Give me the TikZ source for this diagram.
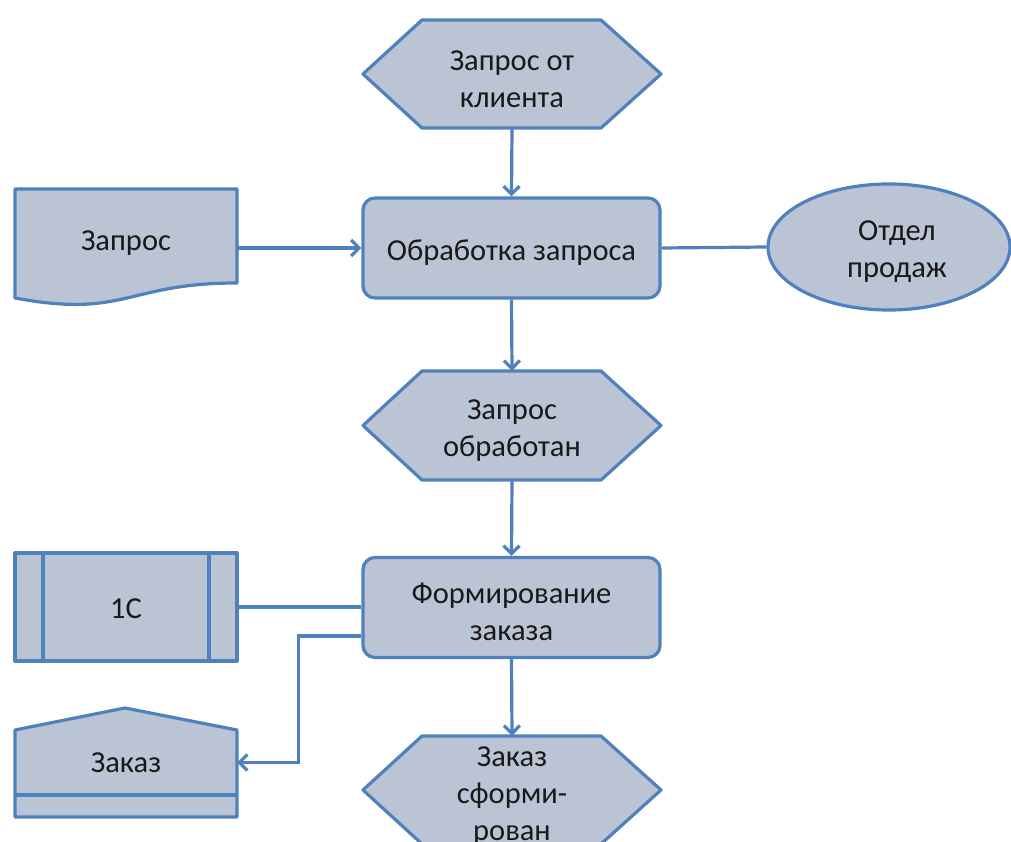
\documentclass[tikz,border=0pt]{standalone}
\usepackage{fontspec}
\setmainfont{Carlito}
\usetikzlibrary{arrows.meta,shapes.geometric}
\definecolor{edgeblue}{RGB}{79,129,189}
\definecolor{boxfill}{RGB}{187,196,212}
\begin{document}
\begin{tikzpicture}[x=1pt,y=-1pt,
  shp/.style={draw=edgeblue, fill=boxfill, line width=3.2pt, line join=round},
  lbl/.style={font=\fontsize{30.5}{37}\selectfont, align=center, text=black!90, inner sep=0pt},
  box/.style={inner sep=0pt, draw=none},
  rbox/.style={shp, rounded corners=12pt, minimum width=297pt, minimum height=100pt, inner sep=0pt},
  conn/.style={draw=edgeblue, line width=3.2pt},
  arr/.style={conn, -{Straight Barb[length=8pt,width=16pt,line width=3.2pt]}}
]
\useasboundingbox (0,0) rectangle (1011,842);
\fill[white] (0,0) rectangle (1011,842);

% shapes drawn directly
\filldraw[shp] (363,74) -- (422,20) -- (601,20) -- (661,74) -- (601,128) -- (422,128) -- cycle;
\filldraw[shp] (363,425.5) -- (422,371) -- (601,371) -- (661,425.5) -- (601,480) -- (422,480) -- cycle;
\filldraw[shp] (363,790) -- (422,736) -- (601,736) -- (661,790) -- (601,844) -- (422,844) -- cycle;
\filldraw[shp] (15,189) -- (237,189) -- (237,283) .. controls (126,283) and (126,318.6) .. (15,298) -- cycle;
\filldraw[shp] (15,553) rectangle (237,661);
\draw[shp] (43,553) -- (43,661) (209,553) -- (209,661);
\filldraw[shp] (15,730) -- (125,708) -- (237,730) -- (237,817) -- (15,817) -- cycle;
\draw[shp] (15,795) -- (237,795);

% geometry nodes
\node[box, minimum width=298pt, minimum height=108pt] (h1) at (512,74) {};
\node[rbox] (obr) at (511.5,248) {};
\node[box, minimum width=222pt, minimum height=109pt] (zapros) at (126,243.5) {};
\node[shp, ellipse, minimum width=242pt, minimum height=126pt, inner sep=0pt] (otd) at (889,247) {};
\node[box, minimum width=298pt, minimum height=109pt] (h2) at (512,425.5) {};
\node[rbox] (form) at (511.5,607.5) {};
\node[box, minimum width=222pt, minimum height=108pt] (c1) at (126,607) {};
\node[box, minimum width=222pt, minimum height=109pt] (zakaz) at (126,762.5) {};
\node[box, minimum width=298pt, minimum height=108pt] (h3) at (512,790) {};

% connectors
\draw[arr] (h1.south) -- (obr.north);
\draw[arr] (obr.west -| zapros.east) -- (obr.west);
\draw[conn] (obr.east) -- (otd.west);
\draw[arr] (obr.south) -- (h2.north);
\draw[arr] (h2.south) -- (form.north);
\draw[conn] (c1.east) -- (c1.east -| form.west);
\draw[arr] ([yshift=-28.5pt]form.west) -- ++(-63,0) |- (zakaz.east);
\draw[arr] (form.south) -- (h3.north);

% texts
\node[lbl] (t1) at ([yshift=-5pt]h1.center) {Запрос от\\клиента};
\node[lbl] (t2) at ([yshift=-5pt]obr.center) {Обработка запроса};
\node[lbl] (t3) at ([yshift=0pt]zapros.center) {Запрос};
\node[lbl] (t4) at ([xshift=8pt,yshift=-5pt]otd.center) {Отдел\\продаж};
\node[lbl] (t5) at ([yshift=-5pt]h2.center) {Запрос\\обработан};
\node[lbl] (t6) at ([yshift=-4pt]form.center) {Формирование\\заказа};
\node[lbl] (t7) at ([yshift=-2pt]c1.center) {1С};
\node[lbl] (t8) at ([yshift=0pt]zakaz.center) {Заказ};
\node[lbl] (t9) at ([yshift=-6.5pt]h3.center) {Заказ\\сформи-\\рован};
\end{tikzpicture}
\end{document}
